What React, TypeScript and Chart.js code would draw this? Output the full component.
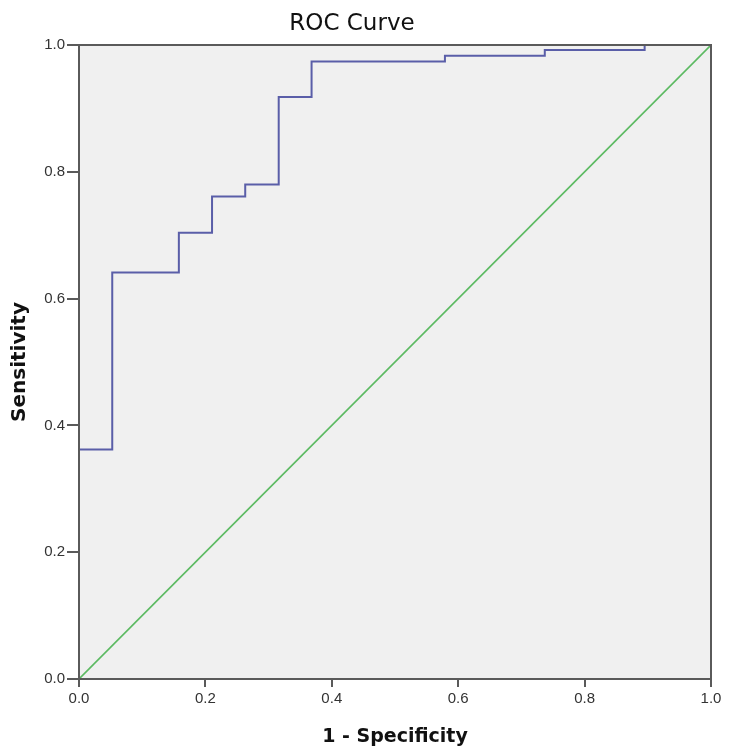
import React, { useEffect, useRef } from "react";
import { Chart, registerables } from "chart.js";

Chart.register(...registerables);

const fpr = [0, 0, 0.0526, 0.0526, 0.158, 0.158, 0.2105, 0.2105, 0.263, 0.263, 0.316, 0.316, 0.368, 0.368, 0.579, 0.579, 0.737, 0.737, 0.895, 0.895, 1.0];
const tpr = [0, 0.362, 0.362, 0.641, 0.641, 0.704, 0.704, 0.761, 0.761, 0.780, 0.780, 0.918, 0.918, 0.974, 0.974, 0.983, 0.983, 0.992, 0.992, 1.0, 1.0];
const refX = [0, 1];
const refY = [0, 1];
const tickValues = [0, 0.2, 0.4, 0.6, 0.8, 1.0];
const titleText = "ROC Curve";
const xTitle = "1 - Specificity";
const yTitle = "Sensitivity";

const wideFont = "'DejaVu Sans', Verdana, sans-serif";
const tickFont = "'Liberation Sans', Arial, sans-serif";

const plotBg = {
  id: "plotBg",
  beforeDraw(chart: any) {
    const { ctx, chartArea: a } = chart;
    ctx.save();
    ctx.fillStyle = "#f0f0f0";
    ctx.fillRect(a.left, a.top, a.right - a.left, a.bottom - a.top);
    ctx.restore();
  },
  afterDatasetsDraw(chart: any) {
    const { ctx, chartArea: a } = chart;
    ctx.save();
    ctx.strokeStyle = "#5a5a5a";
    ctx.lineWidth = 2;
    ctx.strokeRect(a.left, a.top, a.right - a.left, a.bottom - a.top);
    ctx.restore();
  },
  afterDraw(chart: any) {
    const { ctx } = chart;
    ctx.save();
    ctx.fillStyle = "#111";
    ctx.font = `23px ${wideFont}`;
    ctx.textAlign = "center";
    ctx.textBaseline = "middle";
    ctx.fillText(titleText, 352, 24);
    ctx.restore();
  },
};

export default function App() {
  const ref = useRef<HTMLCanvasElement>(null);
  useEffect(() => {
    const chart = new Chart(ref.current!, {
      type: "line",
      data: {
        datasets: [
          {
            data: fpr.map((x, i) => ({ x, y: tpr[i] })),
            borderColor: "#5a5ea8",
            borderWidth: 2,
            pointRadius: 0,
            fill: false,
            tension: 0,
          },
          {
            data: refX.map((x, i) => ({ x, y: refY[i] })),
            borderColor: "#5cba62",
            borderWidth: 1.6,
            pointRadius: 0,
            fill: false,
          },
        ],
      },
      options: {
        animation: false,
        responsive: false,
        maintainAspectRatio: false,
        layout: { padding: { top: 45, right: 39, bottom: 0, left: 0 } },
        plugins: {
          legend: { display: false },
          tooltip: { enabled: false },
          title: { display: false },
        },
        scales: {
          x: {
            type: "linear",
            min: 0,
            max: 1,
            afterBuildTicks: (s: any) => {
              s.ticks = tickValues.map((v) => ({ value: v }));
            },
            afterFit: (s: any) => {
              s.height = 73;
            },
            border: { display: true, color: "#5a5a5a", width: 2 },
            grid: { drawOnChartArea: false, drawTicks: true, tickLength: 8, color: "#5a5a5a", lineWidth: 2 },
            ticks: {
              color: "#333",
              font: { family: tickFont, size: 15 },
              padding: 3,
              maxRotation: 0,
              callback: (v: any) => Number(v).toFixed(1),
            },
            title: {
              display: true,
              text: xTitle,
              color: "#111",
              font: { family: wideFont, size: 19, weight: "bold" },
              padding: { top: 4, bottom: 4 },
            },
          },
          y: {
            type: "linear",
            min: 0,
            max: 1,
            afterBuildTicks: (s: any) => {
              s.ticks = tickValues.map((v) => ({ value: v }));
            },
            afterFit: (s: any) => {
              s.width = 79;
            },
            border: { display: true, color: "#5a5a5a", width: 2 },
            grid: { drawOnChartArea: false, drawTicks: true, tickLength: 12, color: "#5a5a5a", lineWidth: 2 },
            ticks: {
              color: "#333",
              font: { family: tickFont, size: 15 },
              padding: 2,
              callback: (v: any) => Number(v).toFixed(1),
            },
            title: {
              display: true,
              text: yTitle,
              color: "#111",
              font: { family: wideFont, size: 20, weight: "bold" },
              padding: { top: 8, bottom: 4 },
            },
          },
        },
      },
      plugins: [plotBg],
    });
    return () => chart.destroy();
  }, []);
  return (
    <div style={{ position: "absolute", left: 0, top: 0, width: 750, height: 752, background: "#fff" }}>
      <canvas ref={ref} width={750} height={752} style={{ display: "block" }} />
    </div>
  );
}
